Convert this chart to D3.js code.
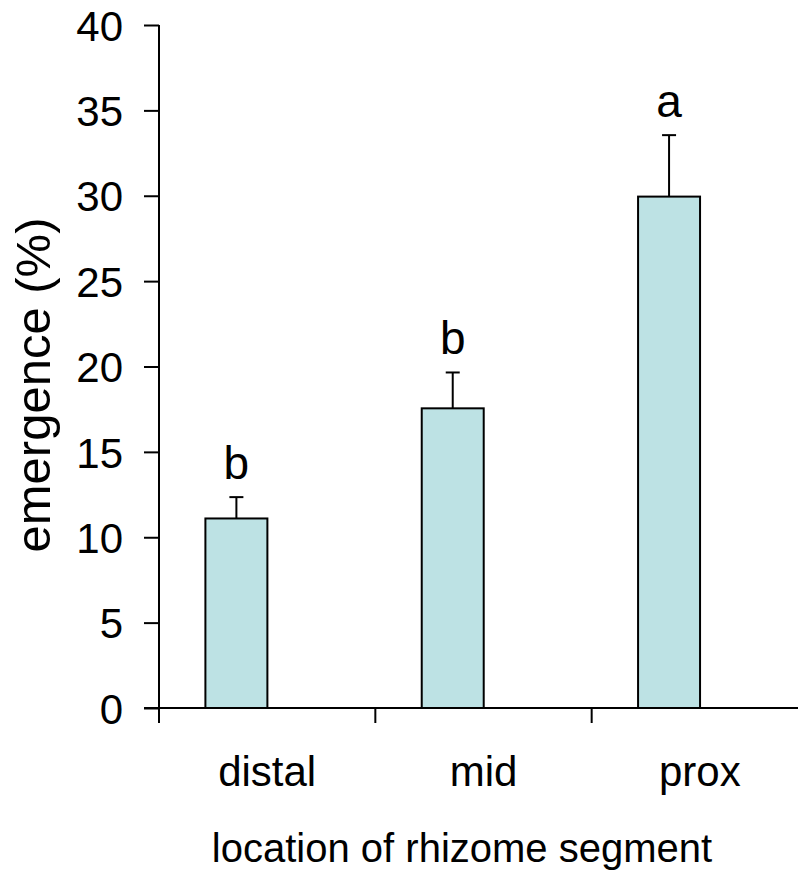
<!DOCTYPE html>
<html>
<head>
<meta charset="utf-8">
<script src="https://cdn.jsdelivr.net/npm/d3@7"></script>
<style>
  html, body { margin: 0; padding: 0; background: #fff; }
  svg { display: block; font-family: "Liberation Sans", Arial, sans-serif; }
</style>
</head>
<body>
<svg id="chart" width="798" height="873"></svg>
<script>
const categories = ["distal", "mid", "prox"];
const means = [11.1, 17.55, 29.95];
const errors = [1.25, 2.1, 3.6];
const letters = ["b", "b", "a"];
const yTicks = [0, 5, 10, 15, 20, 25, 30, 35, 40];

const svg = d3.select("#chart");
const x0 = 159, x1 = 808;
const yBottom = 708, yTop = 25;

const x = d3.scaleBand().domain(categories).range([x0, x1]).paddingInner(0).paddingOuter(0);
const y = d3.scaleLinear().domain([0, 40]).range([yBottom, yTop]);
const bw = x.bandwidth();

// y axis
const yAxis = d3.axisLeft(y).tickValues(yTicks).tickSize(15).tickPadding(21);
const gy = svg.append("g").attr("transform", `translate(${x0},0)`).call(yAxis);
gy.select(".domain").attr("stroke", "#000").attr("stroke-width", 2).attr("d", `M0,${yTop}V${yBottom}`);
gy.selectAll(".tick line").attr("stroke", "#000").attr("stroke-width", 2);
gy.selectAll(".tick text").attr("font-size", 42).attr("fill", "#000")
  .attr("font-family", "Liberation Sans, Arial, sans-serif").attr("dy", "0.36em");

// bars
svg.append("g").selectAll("rect").data(categories).join("rect")
  .attr("x", d => x(d) + bw * 0.2145)
  .attr("width", bw * 0.2865)
  .attr("y", (d, i) => y(means[i]))
  .attr("height", (d, i) => y(0) - y(means[i]))
  .attr("fill", "#bde2e4")
  .attr("stroke", "#000")
  .attr("stroke-width", 2);

// error bars
const eg = svg.append("g");
categories.forEach((c, i) => {
  const cx = x(c) + bw * 0.2145 + bw * 0.2865 / 2;
  eg.append("line").attr("x1", cx).attr("x2", cx)
    .attr("y1", y(means[i])).attr("y2", y(means[i] + errors[i]))
    .attr("stroke", "#000").attr("stroke-width", 2);
  eg.append("line").attr("x1", cx - 7).attr("x2", cx + 7)
    .attr("y1", y(means[i] + errors[i])).attr("y2", y(means[i] + errors[i]))
    .attr("stroke", "#000").attr("stroke-width", 2);
  svg.append("text").attr("x", cx).attr("y", y(means[i] + errors[i]) - 18)
    .attr("text-anchor", "middle").attr("font-size", 46).attr("fill", "#000")
    .text(letters[i]);
});

// x axis
const xAxis = d3.axisBottom(x).tickSize(0).tickFormat(d => d);
const gx = svg.append("g").attr("transform", `translate(0,${yBottom})`).call(xAxis);
gx.select(".domain").attr("stroke", "#000").attr("stroke-width", 2).attr("d", `M144,0H${x1}`);
gx.selectAll(".tick text").attr("font-size", 42).attr("fill", "#000")
  .attr("font-family", "Liberation Sans, Arial, sans-serif")
  .attr("dy", 0).attr("y", 78);
// x tick marks at band boundaries
svg.append("g").selectAll("line").data(categories).join("line")
  .attr("x1", d => x(d)).attr("x2", d => x(d))
  .attr("y1", yBottom).attr("y2", yBottom + 15)
  .attr("stroke", "#000").attr("stroke-width", 2);

// axis titles
svg.append("text").attr("x", 462).attr("y", 862).attr("text-anchor", "middle")
  .attr("font-size", 40).attr("fill", "#000").text("location of rhizome segment");
svg.append("text").attr("transform", "translate(50,385) rotate(-90)").attr("text-anchor", "middle")
  .attr("font-size", 49).attr("fill", "#000").text("emergence (%)");
</script>
</body>
</html>
